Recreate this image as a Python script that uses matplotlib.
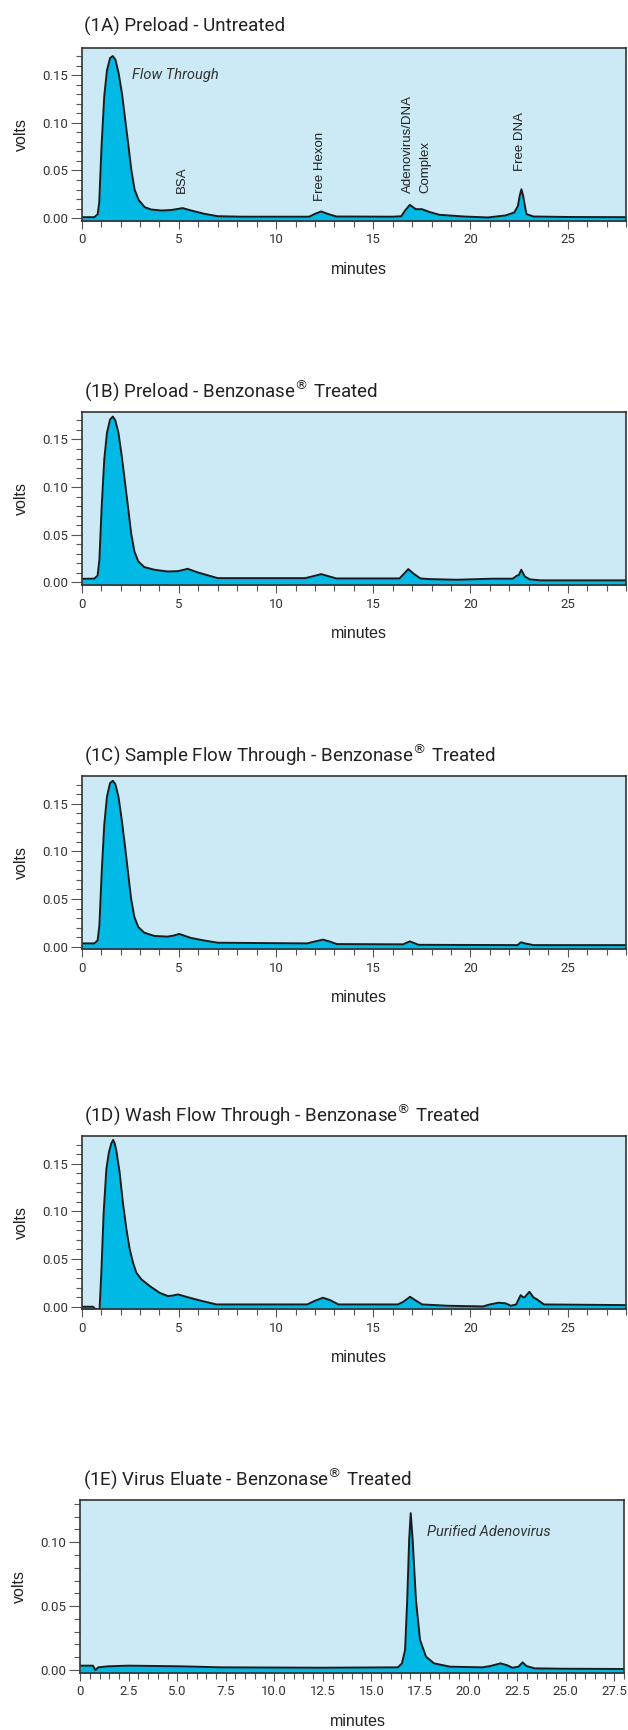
import matplotlib
matplotlib.use('Agg')
import matplotlib.pyplot as plt
from matplotlib.ticker import MultipleLocator, FuncFormatter

plt.rcParams['font.family'] = ['Roboto', 'DejaVu Sans']
plt.rcParams['mathtext.fontset'] = 'dejavusans'

# (1A) Preload - Untreated
time_a = [0, 0.65, 0.82, 0.9, 1.02, 1.16, 1.3, 1.46, 1.6, 1.74, 1.9, 2.07, 2.24, 2.41, 2.55, 2.72,
          2.93, 3.24, 3.58, 4.1, 4.6, 4.9, 5.2, 5.63, 6.32, 7.0, 8.2, 11.7, 12.0, 12.32, 12.65, 13.1,
          16.0, 16.44, 16.62, 16.88, 17.19, 17.5, 17.87, 18.4, 19.66, 20.9, 21.8, 22.25, 22.44,
          22.53, 22.62, 22.71, 22.8, 22.88, 23.24, 25, 28]
volts_a = [0.001, 0.001, 0.004, 0.016, 0.075, 0.128, 0.155, 0.168, 0.170, 0.166, 0.152, 0.131,
           0.103, 0.075, 0.051, 0.030, 0.019, 0.0115, 0.009, 0.008, 0.0085, 0.0095, 0.0105, 0.008,
           0.0045, 0.002, 0.0015, 0.0015, 0.0045, 0.007, 0.0045, 0.0017, 0.0015, 0.002, 0.0076,
           0.0139, 0.0094, 0.0094, 0.0066, 0.0035, 0.0017, 0.0007, 0.0028, 0.0059, 0.0128, 0.0233,
           0.0303, 0.0233, 0.0128, 0.0042, 0.0017, 0.0012, 0.001]

# (1B) Preload - Benzonase Treated
time_b = [0, 0.65, 0.82, 0.91, 1.03, 1.16, 1.3, 1.46, 1.6, 1.73, 1.89, 2.06, 2.23, 2.4, 2.54, 2.71,
          2.91, 3.22, 3.74, 4.42, 4.94, 5.2, 5.45, 5.97, 7.0, 11.5, 11.9, 12.32, 12.7, 13.1, 16.35,
          16.55, 16.8, 17.06, 17.42, 17.87, 19.3, 21.1, 22.17, 22.38, 22.49, 22.61, 22.8, 23.06,
          23.6, 28]
volts_b = [0.0038, 0.004, 0.0073, 0.0238, 0.080, 0.129, 0.157, 0.171, 0.174, 0.170, 0.157, 0.1326,
           0.1045, 0.0764, 0.0519, 0.0326, 0.0221, 0.0161, 0.0133, 0.0115, 0.0118, 0.013, 0.0143,
           0.0105, 0.0045, 0.0045, 0.0065, 0.0087, 0.0065, 0.0042, 0.0042, 0.0085, 0.014, 0.0094,
           0.0042, 0.0035, 0.0028, 0.0039, 0.0039, 0.007, 0.0077, 0.0133, 0.0061, 0.0032, 0.0022,
           0.0022]

# (1C) Sample Flow Through
time_c = [0, 0.65, 0.82, 0.91, 1.03, 1.16, 1.3, 1.46, 1.6, 1.73, 1.89, 2.06, 2.23, 2.4, 2.54, 2.71,
          2.91, 3.22, 3.74, 4.42, 4.75, 5.02, 5.62, 6.31, 7.0, 11.6, 12.0, 12.41, 12.75, 13.12,
          16.53, 16.88, 17.33, 22.43, 22.55, 22.61, 22.79, 23.24, 28]
volts_c = [0.0035, 0.0035, 0.0067, 0.0224, 0.0786, 0.1277, 0.1575, 0.1716, 0.174, 0.1705, 0.1575,
           0.133, 0.105, 0.075, 0.0505, 0.0312, 0.0207, 0.0147, 0.0113, 0.0106, 0.0118, 0.0134,
           0.0092, 0.0065, 0.0042, 0.0035, 0.0055, 0.0074, 0.0055, 0.0028, 0.0025, 0.0056, 0.002,
           0.0017, 0.004, 0.0046, 0.0035, 0.0017, 0.0017]

# (1D) Wash Flow Through
time_d = [0, 0.58, 0.7, 0.92, 1.01, 1.13, 1.27, 1.4, 1.52, 1.62, 1.7, 1.78, 1.95, 2.12, 2.3, 2.47,
          2.64, 2.81, 3.07, 3.5, 4.01, 4.44, 4.7, 4.96, 5.38, 6.07, 6.93, 11.6, 11.96, 12.41, 12.77,
          13.21, 16.26, 16.53, 16.89, 17.15, 17.51, 18.85, 20.64, 21.0, 21.45, 21.81, 22.08, 22.35,
          22.58, 22.7, 22.79, 23.03, 23.24, 23.42, 23.78, 28]
volts_d = [0.0, 0.0, -0.0025, -0.0025, 0.0357, 0.0989, 0.1445, 0.162, 0.171, 0.175, 0.171, 0.164,
           0.141, 0.109, 0.0813, 0.0603, 0.0462, 0.0357, 0.0287, 0.0217, 0.0146, 0.0111, 0.0118,
           0.0129, 0.0104, 0.0066, 0.0024, 0.0024, 0.0059, 0.0094, 0.007, 0.0024, 0.0024, 0.005,
           0.0104, 0.007, 0.0024, 0.001, 0.0003, 0.0024, 0.0042, 0.0035, 0.001, 0.0024, 0.0122,
           0.01, 0.01, 0.0157, 0.0098, 0.0077, 0.0024, 0.0017]

# (1E) Virus Eluate
time_e = [0, 0.66, 0.79, 0.93, 1.45, 2.48, 5.18, 7.25, 12.4, 16.36, 16.57, 16.73, 16.84, 16.94,
          17.02, 17.12, 17.29, 17.5, 17.81, 18.22, 19.05, 20.7, 21.12, 21.64, 21.95, 22.26, 22.57,
          22.78, 22.98, 23.4, 24.85, 28]
volts_e = [0.0034, 0.0034, 0.0, 0.0021, 0.0029, 0.0034, 0.0029, 0.0021, 0.0018, 0.0021, 0.0052,
           0.0157, 0.0548, 0.1018, 0.1227, 0.1018, 0.0548, 0.0235, 0.0104, 0.0052, 0.0026, 0.0021,
           0.0031, 0.0052, 0.0039, 0.0018, 0.0026, 0.006, 0.0031, 0.0013, 0.001, 0.0008]

titles = ['(1A) Preload - Untreated',
          '(1B) Preload - Benzonase$^{®}$ Treated',
          '(1C) Sample Flow Through - Benzonase$^{®}$ Treated',
          '(1D) Wash Flow Through - Benzonase$^{®}$ Treated',
          '(1E) Virus Eluate - Benzonase$^{®}$ Treated']

W, H = 628, 1730
fig = plt.figure(figsize=(W / 100, H / 100), dpi=100)

# axes boxes in pixels: left, top, right, bottom
boxes = [(81.7, 47.5, 626, 220.7),
         (81.7, 411.8, 626, 585),
         (81.7, 776, 626, 949.3),
         (81.7, 1136, 626, 1309.3),
         (80.1, 1500, 624, 1672.7)]

series = [(time_a, volts_a), (time_b, volts_b), (time_c, volts_c), (time_d, volts_d), (time_e, volts_e)]

bg = '#cbeaf5'
fill = '#00b9e4'
label_font = ['Liberation Sans', 'DejaVu Sans']

axes = []
for i, (box, (t, v)) in enumerate(zip(boxes, series)):
    l, tp, r, b = box
    ax = fig.add_axes([l / W, 1 - b / H, (r - l) / W, (b - tp) / H])
    axes.append(ax)
    ax.set_facecolor(bg)
    if i < 4:
        lo, hi = -0.0027, 0.179
    else:
        lo, hi = -0.0021, 0.133
    ax.fill_between(t, v, lo - 0.01, color=fill, lw=0)
    ax.plot(t, v, color='#1c1c1c', lw=1.4, solid_joinstyle='round')
    ax.set_xlim(0, 28)
    ax.set_ylim(lo, hi)

    if i < 4:
        ax.xaxis.set_major_locator(MultipleLocator(5))
        ax.xaxis.set_minor_locator(MultipleLocator(1))
        ax.xaxis.set_major_formatter(FuncFormatter(lambda x, p: '%d' % x))
    else:
        ax.xaxis.set_major_locator(MultipleLocator(2.5))
        ax.xaxis.set_minor_locator(MultipleLocator(0.5))
        ax.xaxis.set_major_formatter(FuncFormatter(lambda x, p: '0' if x == 0 else '%.1f' % x))
    ax.yaxis.set_major_locator(MultipleLocator(0.05))
    ax.yaxis.set_minor_locator(MultipleLocator(0.01))
    ax.yaxis.set_major_formatter(FuncFormatter(lambda y, p: '%.2f' % y))

    ax.tick_params(axis='both', which='both', direction='out', color='#555555',
                   labelcolor='#333333', labelsize=9.5, width=0.8)
    ax.tick_params(axis='y', which='major', length=8, pad=2)
    ax.tick_params(axis='y', which='minor', length=4.5)
    ax.tick_params(axis='x', which='major', length=6, pad=3)
    ax.tick_params(axis='x', which='minor', length=4)
    for sp in ax.spines.values():
        sp.set_color('#333333')
        sp.set_linewidth(1.2)

    ax.set_xlabel('minutes', family=label_font, fontsize=11.5, color='#222222')
    ax.set_ylabel('volts', family=label_font, fontsize=11.5, color='#222222')
    ax.xaxis.set_label_coords(0.51, -41 / (b - tp))
    ax.yaxis.set_label_coords(-0.097, 0.5)
    ax.set_title(titles[i], loc='left', x=0.005, pad=11, fontsize=13.5, color='#222222')

# peak annotations on 1A
ax = axes[0]
ann = dict(rotation=90, ha='center', va='bottom', family=label_font, fontsize=9.5, color='#222222')
ax.text(5.16, 0.026, 'BSA', **ann)
ax.text(12.28, 0.018, 'Free Hexon', **ann)
ax.text(16.77, 0.026, 'Adenovirus/DNA', **ann)
ax.text(17.66, 0.026, 'Complex', **ann)
ax.text(22.56, 0.049, 'Free DNA', **ann)
ax.text(2.6, 0.150, 'Flow Through', ha='left', va='center', style='italic', fontsize=10.5,
        color='#333333')

axes[4].text(17.87, 0.108, 'Purified Adenovirus', ha='left', va='center', style='italic',
             fontsize=10.5, color='#333333')

fig.savefig('out.png', dpi=100)
